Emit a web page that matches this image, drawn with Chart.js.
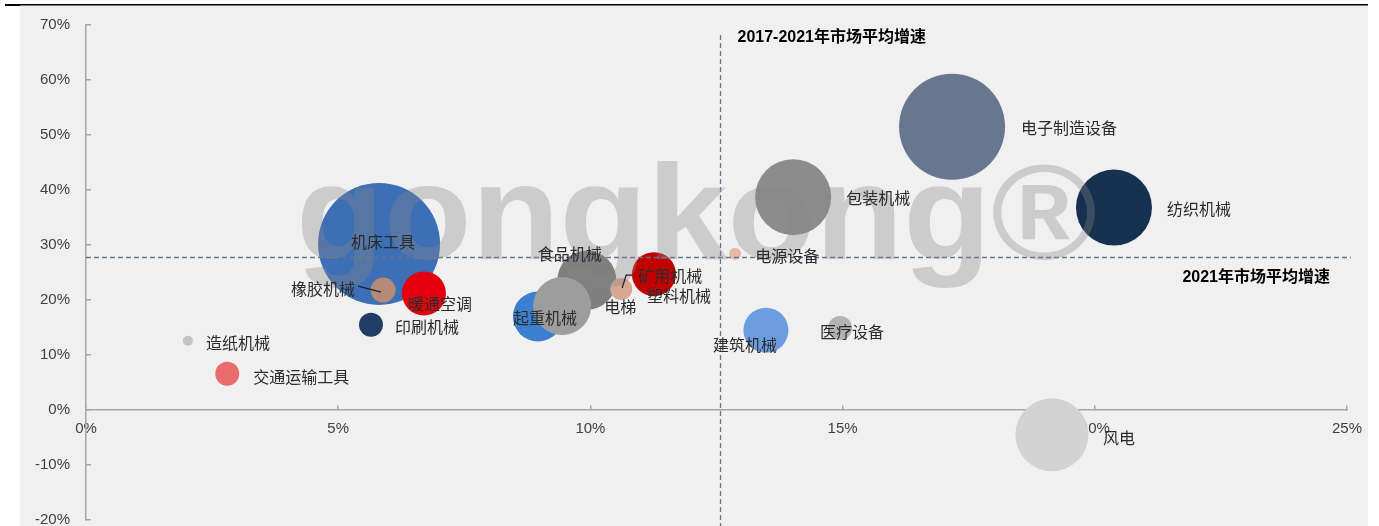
<!DOCTYPE html>
<html>
<head>
<meta charset="utf-8">
<script src="https://cdn.jsdelivr.net/npm/chart.js@4.4.1/dist/chart.umd.min.js"></script>
<style>
  html, body { margin: 0; padding: 0; background: #fff; }
  #wrap { width: 1379px; height: 526px; }
</style>
</head>
<body>
<div id="wrap"><canvas id="chart" width="1379" height="526"></canvas></div>
<script>
/* ─── Data ─────────────────────────────────────── */
const CATEGORIES = [
  '机床工具', '橡胶机械', '暖通空调', '印刷机械', '造纸机械', '交通运输工具',
  '食品机械', '起重机械', '矿用机械', '电梯', '塑料机械', '电源设备',
  '包装机械', '建筑机械', '医疗设备', '电子制造设备', '纺织机械', '风电',
];
// 2017-2021 average growth (%)
const GROWTH_5Y = [
  5.81, 5.89, 6.70, 5.65, 2.02, 2.80,
  9.93, 8.96, 9.44, 10.61, 11.26, 12.87,
  14.02, 13.48, 14.95, 17.17, 20.38, 19.15,
];
// 2021 growth (%)
const GROWTH_2021 = [
  30.2, 21.8, 21.2, 15.5, 12.6, 6.6,
  23.6, 17.0, 18.9, 22.0, 24.7, 28.4,
  38.7, 14.5, 14.9, 51.5, 36.8, -4.5,
];
// bubble radius (market size)
const BUBBLE_R = [
  61, 12.5, 22, 12, 5, 12,
  29.5, 25, 29, 11, 22, 6,
  38, 22.5, 12, 53, 38, 36.5,
];
const X_TICKS = [0, 5, 10, 15, 20, 25];
const Y_TICKS = [-20, -10, 0, 10, 20, 30, 40, 50, 60, 70];
const AVG_5Y   = 12.57;
const AVG_2021 = 27.8;

/* ─── Styles ───────────────────────────────────── */
const COLORS = [
  '#3d6fb6', '#b58a78', '#e4000f', '#1f3d66', '#c2c2c2', '#ea6b6b',
  '#7f7f7f', '#3a7fd0', '#9d9d9d', '#d7a792', '#c00000', '#e8b9a4',
  '#8c8c8c', '#6b9de0', '#b3b3b3', '#687690', '#16304f', '#d3d3d3',
];
// label placement relative to bubble centre: [dx, dy, align]
const LABEL_POS = [
  [4, -2, 'center'], [-28, -1, 'right'], [16, 11, 'center'], [24, 2, 'left'],
  [18, 2, 'left'], [26, 3, 'left'], [-17, -26, 'center'], [7, 1, 'center'],
  [76, -30, 'left'], [-1, 18, 'center'], [25, 22, 'center'], [20, 2, 'left'],
  [53, 1, 'left'], [-21, 15, 'center'], [12, 4, 'center'], [69, 1, 'left'],
  [53, 1, 'left'], [51, 3, 'left'],
];
// leader lines, relative to bubble centre
const LEADERS = {
  1: [[-25, -4], [-2, 2]],
  8: [[60, -18], [64, -31], [70, -31]],
};

const LABEL_FONT = '16px "Noto Sans CJK SC", sans-serif';
const NOTE_FONT  = 'bold 16px "Liberation Sans", "Noto Sans CJK SC", sans-serif';
const TICK_FONT  = { family: '"Liberation Sans", Arial, sans-serif', size: 15 };

/* ─── Plugins ──────────────────────────────────── */
const panelBg = {
  id: 'panelBg',
  beforeDraw(chart) {
    const { ctx, width, height } = chart;
    ctx.save();
    ctx.fillStyle = '#ffffff';
    ctx.fillRect(0, 0, width, height);
    ctx.fillStyle = '#f0f0f0';
    ctx.fillRect(20, 5, 1348, height - 5);
    ctx.fillStyle = '#000';
    ctx.fillRect(5, 4, 15, 2);
    ctx.fillRect(20, 4, 1348, 1.5);
    ctx.restore();
  },
};

const overlay = {
  id: 'overlay',
  afterDatasetsDraw(chart) {
    const { ctx, scales: { x, y }, chartArea } = chart;
    const pts = chart.getDatasetMeta(0).data;
    ctx.save();

    // average lines
    const ax = Math.round(x.getPixelForValue(AVG_5Y)) + 0.5;
    const ay = Math.round(y.getPixelForValue(AVG_2021)) + 0.5;
    ctx.strokeStyle = '#66758c';
    ctx.lineWidth = 1.3;
    ctx.setLineDash([5, 3]);
    ctx.beginPath();
    ctx.moveTo(chartArea.left, ay);
    ctx.lineTo(chartArea.right + 4, ay);
    ctx.moveTo(ax, 35);
    ctx.lineTo(ax, chart.height);
    ctx.stroke();
    ctx.setLineDash([]);

    // watermark
    ctx.font = 'bold 135px "Liberation Sans", Arial, sans-serif';
    ctx.textBaseline = 'alphabetic';
    ctx.textAlign = 'left';
    const wm = 'gongkong®';
    const w = ctx.measureText(wm).width;
    ctx.save();
    ctx.translate(296, 259);
    ctx.scale(801 / w, 1);
    ctx.fillStyle = 'rgba(135,135,135,0.34)';
    ctx.fillText(wm, 0, 0);
    ctx.restore();

    // notes on average lines
    ctx.fillStyle = '#000';
    ctx.font = NOTE_FONT;
    ctx.textBaseline = 'middle';
    ctx.textAlign = 'left';
    ctx.fillText('2017-2021年市场平均增速', ax + 17, 38);
    ctx.textAlign = 'right';
    ctx.fillText('2021年市场平均增速', chartArea.right - 17, ay + 20);

    // leader lines
    ctx.strokeStyle = '#222';
    ctx.lineWidth = 1.2;
    Object.keys(LEADERS).forEach(k => {
      const p = pts[k];
      ctx.beginPath();
      LEADERS[k].forEach(([dx, dy], i) => {
        if (i === 0) ctx.moveTo(p.x + dx, p.y + dy);
        else ctx.lineTo(p.x + dx, p.y + dy);
      });
      ctx.stroke();
    });

    // category labels
    ctx.fillStyle = '#2b2b2b';
    ctx.font = LABEL_FONT;
    ctx.textBaseline = 'middle';
    CATEGORIES.forEach((name, i) => {
      const p = pts[i];
      const [dx, dy, align] = LABEL_POS[i];
      ctx.textAlign = align;
      ctx.fillText(name, p.x + dx, p.y + dy);
    });

    ctx.restore();
  },
};

/* ─── Chart ────────────────────────────────────── */
const ctx = document.getElementById('chart').getContext('2d');
new Chart(ctx, {
  type: 'bubble',
  data: {
    datasets: [{
      label: '市场增速',
      data: CATEGORIES.map((c, i) => ({ x: GROWTH_5Y[i], y: GROWTH_2021[i], r: BUBBLE_R[i] })),
      backgroundColor: COLORS,
      borderWidth: 0,
      clip: false,
    }],
  },
  options: {
    responsive: false,
    animation: false,
    events: [],
    layout: { autoPadding: false, padding: { left: 0, right: 32, top: 25, bottom: 6 } },
    plugins: { legend: { display: false }, tooltip: { enabled: false } },
    scales: {
      x: {
        type: 'linear',
        min: X_TICKS[0],
        max: X_TICKS[X_TICKS.length - 1],
        position: { y: 0 },
        afterBuildTicks: s => { s.ticks = X_TICKS.map(v => ({ value: v })); },
        afterFit: s => { s.height = 0; },
        ticks: {
          callback: v => v + '%',
          color: '#404040',
          font: TICK_FONT,
          padding: 15,
          maxRotation: 0,
        },
        grid: { drawOnChartArea: false, drawTicks: true, tickLength: -5, color: '#a6a6a6', lineWidth: 1.5 },
        border: { display: true, color: '#a6a6a6', width: 1.5 },
      },
      y: {
        type: 'linear',
        min: Y_TICKS[0],
        max: Y_TICKS[Y_TICKS.length - 1],
        position: 'left',
        afterBuildTicks: s => { s.ticks = Y_TICKS.map(v => ({ value: v })); },
        afterFit: s => { s.width = 86; s.paddingTop = 0; s.paddingBottom = 0; },
        ticks: {
          callback: v => v + '%',
          color: '#404040',
          font: TICK_FONT,
          padding: 21,
        },
        grid: { drawOnChartArea: false, drawTicks: true, tickLength: -5, color: '#a6a6a6', lineWidth: 1.5 },
        border: { display: true, color: '#a6a6a6', width: 1.5 },
      },
    },
  },
  plugins: [panelBg, overlay],
});
</script>
</body>
</html>
